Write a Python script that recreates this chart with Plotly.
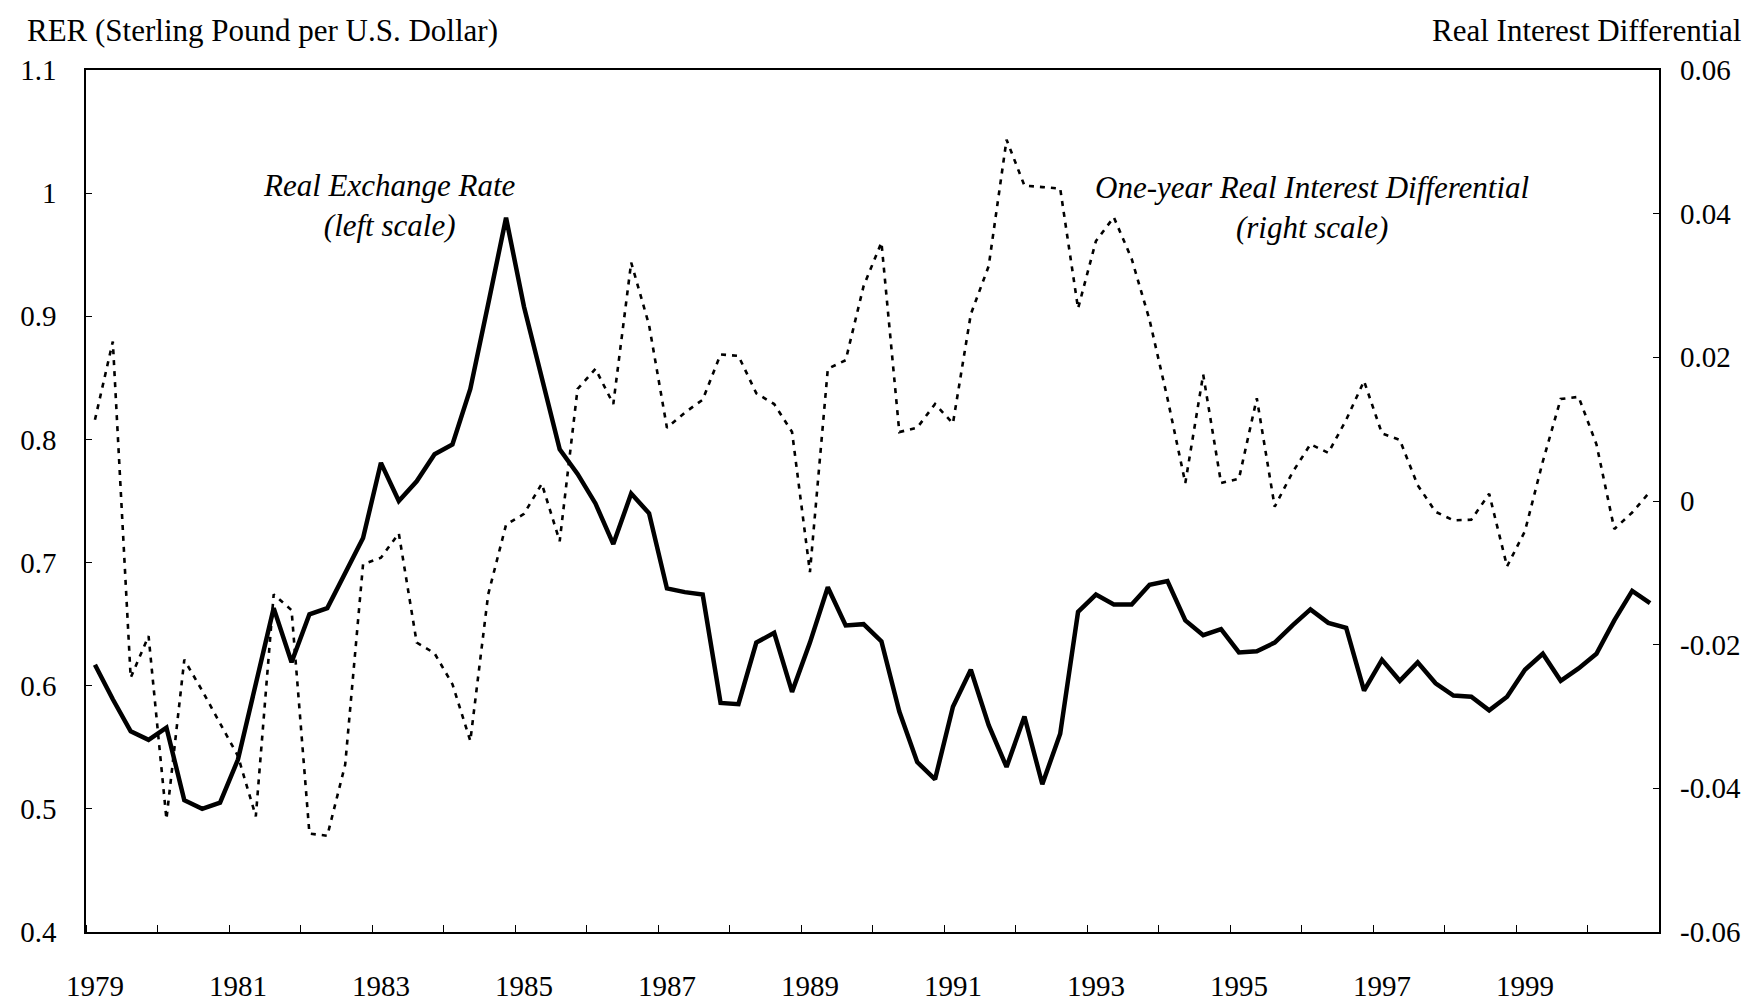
import plotly.graph_objects as go

# Quarterly observations 1979Q1 .. 2000Q4
years = list(range(1979, 2001))
quarters = [f"{y}Q{q}" for y in years for q in range(1, 5)]

rer = [0.617, 0.589, 0.563, 0.556, 0.566, 0.507, 0.500, 0.505,
       0.540, 0.602, 0.663, 0.619, 0.658, 0.663, 0.692, 0.720,
       0.781, 0.750, 0.766, 0.788, 0.796, 0.841, 0.910, 0.980,
       0.908, 0.850, 0.792, 0.772, 0.748, 0.715, 0.756, 0.740,
       0.679, 0.676, 0.674, 0.586, 0.585, 0.635, 0.643, 0.595,
       0.635, 0.680, 0.649, 0.650, 0.636, 0.579, 0.538, 0.524,
       0.583, 0.613, 0.568, 0.534, 0.575, 0.520, 0.561, 0.660,
       0.674, 0.666, 0.666, 0.682, 0.685, 0.653, 0.641, 0.646,
       0.627, 0.628, 0.635, 0.649, 0.662, 0.651, 0.647, 0.596,
       0.621, 0.604, 0.619, 0.602, 0.592, 0.591, 0.580, 0.591,
       0.613, 0.626, 0.604, 0.614, 0.626, 0.653, 0.677, 0.667]

rid = [0.0113, 0.0222, -0.0246, -0.0188, -0.0443, -0.0221, -0.0264, -0.0309,
       -0.0355, -0.0439, -0.0130, -0.0152, -0.0463, -0.0466, -0.0367, -0.0088,
       -0.0079, -0.0045, -0.0197, -0.0212, -0.0255, -0.0334, -0.0130, -0.0033,
       -0.0018, 0.0024, -0.0056, 0.0156, 0.0184, 0.0135, 0.0332, 0.0245,
       0.0102, 0.0123, 0.0141, 0.0204, 0.0202, 0.0150, 0.0135, 0.0096,
       -0.0099, 0.0184, 0.0196, 0.0299, 0.0360, 0.0096, 0.0102, 0.0135,
       0.0108, 0.0260, 0.0327, 0.0503, 0.0439, 0.0437, 0.0435, 0.0268,
       0.0362, 0.0395, 0.0337, 0.0252, 0.0143, 0.0025, 0.0176, 0.0025,
       0.0031, 0.0143, -0.0008, 0.0040, 0.0079, 0.0067, 0.0113, 0.0167,
       0.0094, 0.0085, 0.0022, -0.0015, -0.0027, -0.0026, 0.0010, -0.0091,
       -0.0042, 0.0055, 0.0142, 0.0145, 0.0079, -0.0039, -0.0016, 0.0013]

x_label_years = ["1979", "1981", "1983", "1985", "1987", "1989",
                 "1991", "1993", "1995", "1997", "1999"]
left_ticks = [0.4, 0.5, 0.6, 0.7, 0.8, 0.9, 1.0, 1.1]
left_text = ["0.4", "0.5", "0.6", "0.7", "0.8", "0.9", "1", "1.1"]
right_ticks = [-0.06, -0.04, -0.02, 0.0, 0.02, 0.04, 0.06]
right_text = ["-0.06", "-0.04", "-0.02", "0", "0.02", "0.04", "0.06"]

FONT = "Liberation Serif"
FS_TICK = 29
FS_TEXT = 31

idx = list(range(len(quarters)))
label_pos = [quarters.index(y + "Q1") for y in x_label_years]

fig = go.Figure()
fig.add_trace(go.Scatter(x=idx, y=rer, mode="lines", name="Real Exchange Rate",
                         line=dict(color="black", width=4.5), yaxis="y"))
fig.add_trace(go.Scatter(x=idx, y=rid, mode="lines", name="One-year Real Interest Differential",
                         line=dict(color="black", width=2.6, dash="5px,6px"), yaxis="y2"))

W, H = 1758, 1006
ml, mr, mt, mb = 75, 107, 62, 62
pw, ph = W - ml - mr, H - mt - mb

def px(xp):
    return (xp - ml) / pw

def py(yp):
    return (H - mb - yp) / ph

fig.update_layout(
    width=W, height=H,
    margin=dict(l=ml, r=mr, t=mt, b=mb, pad=0),
    paper_bgcolor="white", plot_bgcolor="white",
    showlegend=False,
    font=dict(family=FONT, size=FS_TICK, color="black"),
    xaxis=dict(range=[-0.5, len(idx) - 0.5], showgrid=False, zeroline=False,
               showline=True, linecolor="black", linewidth=2, mirror=True,
               tickmode="array", tickvals=label_pos, ticktext=x_label_years,
               ticks="", ticklabelstandoff=27,
               minor=dict(tick0=-0.5, dtick=4, ticks="inside", ticklen=7,
                          tickcolor="black", tickwidth=1, showgrid=False)),
    yaxis=dict(range=[0.4, 1.1], showgrid=False, zeroline=False,
               showline=True, linecolor="black", linewidth=1.5, mirror=True,
               tickmode="array", tickvals=left_ticks, ticktext=left_text,
               ticks="inside", ticklen=6, tickcolor="black", tickwidth=1,
               ticklabelstandoff=22),
    yaxis2=dict(range=[-0.06, 0.06], overlaying="y", side="right",
                showgrid=False, zeroline=False, showline=False,
                tickmode="array", tickvals=right_ticks, ticktext=right_text,
                ticks="inside", ticklen=6, tickcolor="black", tickwidth=1,
                ticklabelstandoff=20),
    annotations=[
        dict(text="RER (Sterling Pound per U.S. Dollar)", xref="paper", yref="paper",
             x=px(14), y=py(22), xanchor="left", yanchor="middle", showarrow=False,
             font=dict(family=FONT, size=FS_TEXT)),
        dict(text="Real Interest Differential", xref="paper", yref="paper",
             x=px(1735), y=py(22), xanchor="right", yanchor="middle", showarrow=False,
             font=dict(family=FONT, size=FS_TEXT)),
        dict(text="<i>Real Exchange Rate</i><br><i>(left scale)</i>", xref="paper", yref="paper",
             x=px(379), y=py(201), xanchor="center", yanchor="middle", showarrow=False,
             font=dict(family=FONT, size=FS_TEXT)),
        dict(text="<i>One-year Real Interest Differential</i><br><i>(right scale)</i>",
             xref="paper", yref="paper",
             x=px(1303), y=py(203), xanchor="center", yanchor="middle", showarrow=False,
             font=dict(family=FONT, size=FS_TEXT)),
    ],
)

fig.write_html("out.html")
